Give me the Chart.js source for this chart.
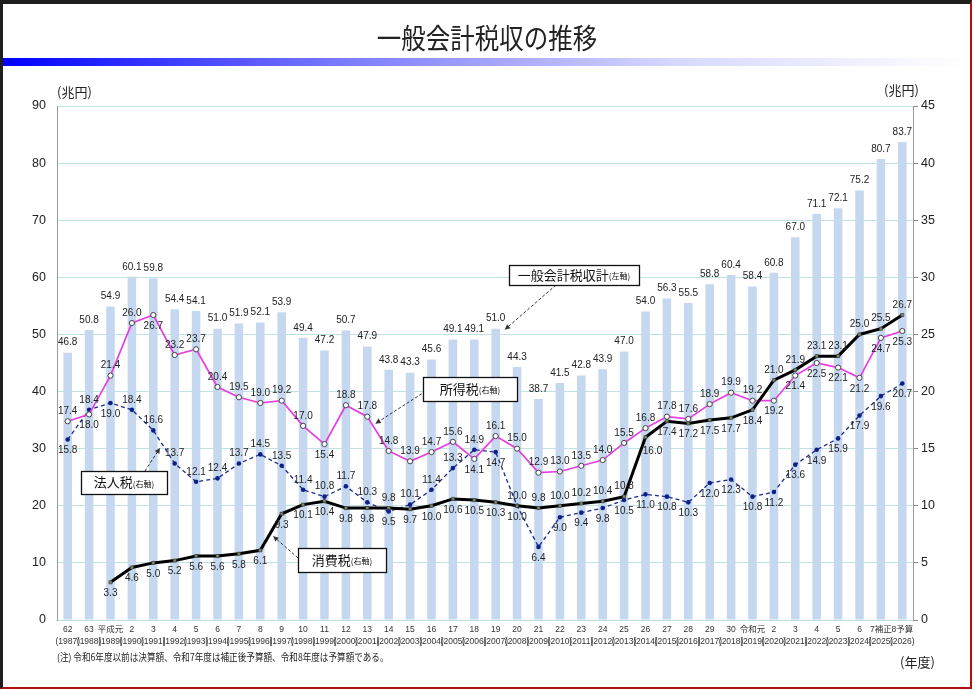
<!DOCTYPE html>
<html><head><meta charset="utf-8">
<script src="https://cdn.jsdelivr.net/npm/chart.js@4.4.1/dist/chart.umd.min.js"></script>
<style>
html,body{margin:0;padding:0;background:#fff;}
body{width:975px;height:690px;position:relative;overflow:hidden;font-family:"Noto Sans CJK JP","Liberation Sans",sans-serif;color:#222;}
#frame{position:absolute;left:0;top:0;width:972px;height:689px;box-sizing:border-box;border-top:4px solid #1e1e1e;border-left:3px solid #1e1e1e;border-right:2px solid #b01010;border-bottom:2px solid #b01010;z-index:3;pointer-events:none;}
#title{position:absolute;left:0;top:21px;width:975px;text-align:center;font-size:28px;line-height:32px;z-index:2;}
#title span{display:inline-block;transform:scaleX(0.875);}
#band{position:absolute;left:3px;top:58px;width:965px;height:8px;background:linear-gradient(to right,#0000ff 0%,#7a7aff 35%,#d8d8ff 70%,#ffffff 100%);z-index:2;}
canvas{position:absolute;left:0;top:0;z-index:1;}
.t{position:absolute;z-index:2;white-space:nowrap;}
#unitL{left:57px;top:84px;font-size:13px;line-height:16px;}
#unitR{left:884px;top:82px;font-size:13px;line-height:16px;}
#note{left:57px;top:650px;font-size:10px;line-height:14px;transform:scaleX(0.86);transform-origin:left center;}
#nendo{left:900px;top:654px;font-size:13px;line-height:16px;}
</style></head>
<body>
<div id="frame"></div>
<div id="title"><span>一般会計税収の推移</span></div>
<div id="band"></div>
<canvas id="c" width="975" height="690"></canvas>
<div class="t" id="unitL">(兆円)</div>
<div class="t" id="unitR">(兆円)</div>
<div class="t" id="note">(注) 令和6年度以前は決算額、令和7年度は補正後予算額、令和8年度は予算額である。</div>
<div class="t" id="nendo">(年度)</div>
<script>
// ---- data ----
const eraLabels = ['62','63','平成元','2','3','4','5','6','7','8','9','10','11','12','13','14','15','16','17','18','19','20','21','22','23','24','25','26','27','28','29','30','令和元','2','3','4','5','6','7補正','8予算'];
const yearLabels = ['1987','1988','1989','1990','1991','1992','1993','1994','1995','1996','1997','1998','1999','2000','2001','2002','2003','2004','2005','2006','2007','2008','2009','2010','2011','2012','2013','2014','2015','2016','2017','2018','2019','2020','2021','2022','2023','2024','2025','2026'];
const totalTax = [46.8,50.8,54.9,60.1,59.8,54.4,54.1,51.0,51.9,52.1,53.9,49.4,47.2,50.7,47.9,43.8,43.3,45.6,49.1,49.1,51.0,44.3,38.7,41.5,42.8,43.9,47.0,54.0,56.3,55.5,58.8,60.4,58.4,60.8,67.0,71.1,72.1,75.2,80.7,83.7];
const incomeTax = [17.4,18.0,21.4,26.0,26.7,23.2,23.7,20.4,19.5,19.0,19.2,17.0,15.4,18.8,17.8,14.8,13.9,14.7,15.6,14.1,16.1,15.0,12.9,13.0,13.5,14.0,15.5,16.8,17.8,17.6,18.9,19.9,19.2,19.2,21.4,22.5,22.1,21.2,24.7,25.3];
const corpTax = [15.8,18.4,19.0,18.4,16.6,13.7,12.1,12.4,13.7,14.5,13.5,11.4,10.8,11.7,10.3,9.5,10.1,11.4,13.3,14.9,14.7,10.0,6.4,9.0,9.4,9.8,10.5,11.0,10.8,10.3,12.0,12.3,10.8,11.2,13.6,14.9,15.9,17.9,19.6,20.7];
const consTax = [null,null,3.3,4.6,5.0,5.2,5.6,5.6,5.8,6.1,9.3,10.1,10.4,9.8,9.8,9.8,9.7,10.0,10.6,10.5,10.3,10.0,9.8,10.0,10.2,10.4,10.8,16.0,17.4,17.2,17.5,17.7,18.4,21.0,21.9,23.1,23.1,25.0,25.5,26.7];
const leftTicks = [0,10,20,30,40,50,60,70,80,90];
const rightTicks = [0,5,10,15,20,25,30,35,40,45];

// ---- label placement (a = above, b = below, r = below-right) ----
const placeIncome = ('abaabaaaaa'+'aabaaaaaab'+'aaaaaaaaaa'+'aaabbbbbbb').split('');
const placeCorp   = ('babaaaaaaa'+'aaaaabaaaa'+'babbbbbbbb'+'bbbbbbbbbb').split('');
const placeCons   = ('bbbbbbbbbb'+'bbbbbabbbb'+'bbaaaaarbb'+'bbbaaaaaaa').split('');

const labels = eraLabels.map((e,i)=>[e,'('+yearLabels[i]+')']);
const LATIN = '"Liberation Sans", Arial, "Noto Sans CJK JP", sans-serif';
const CJK = '"Noto Sans CJK JP", "Liberation Sans", sans-serif';

const valueLabels = {
  id:'valueLabels',
  afterDatasetsDraw(chart){
    const ctx = chart.ctx;
    ctx.save();
    ctx.font = '10px ' + LATIN;
    ctx.fillStyle = '#222';
    ctx.textAlign = 'center';
    chart.data.datasets.forEach((ds,i)=>{
      const meta = chart.getDatasetMeta(i);
      meta.data.forEach((el,j)=>{
        const v = ds.data[j];
        if (v == null) return;
        const pos = ds.place ? ds.place[j] : 'a';
        let x = el.x, y;
        if (ds.type === 'bar') { ctx.textBaseline = 'bottom'; y = el.y - 5; }
        else if (pos === 'a') { ctx.textBaseline = 'bottom'; y = el.y - 5; }
        else if (pos === 'r') { ctx.textBaseline = 'top'; y = el.y + 9; x = el.x + 7; }
        else { ctx.textBaseline = 'top'; y = el.y + 6; }
        ctx.fillText(v.toFixed(1), x, y);
      });
    });
    ctx.restore();
  }
};

function dashedArrow(ctx, x1, y1, x2, y2){
  ctx.save();
  ctx.strokeStyle = '#333';
  ctx.fillStyle = '#333';
  ctx.lineWidth = 1;
  ctx.setLineDash([3,2]);
  const ang = Math.atan2(y2-y1, x2-x1);
  const hl = 6;
  ctx.beginPath();
  ctx.moveTo(x1,y1);
  ctx.lineTo(x2 - Math.cos(ang)*hl*0.8, y2 - Math.sin(ang)*hl*0.8);
  ctx.stroke();
  ctx.setLineDash([]);
  ctx.beginPath();
  ctx.moveTo(x2,y2);
  ctx.lineTo(x2 - hl*Math.cos(ang-0.45), y2 - hl*Math.sin(ang-0.45));
  ctx.lineTo(x2 - hl*Math.cos(ang+0.45), y2 - hl*Math.sin(ang+0.45));
  ctx.closePath();
  ctx.fill();
  ctx.restore();
}

function drawBox(ctx, x, y, w, h, main, small){
  ctx.save();
  ctx.fillStyle = '#fff';
  ctx.fillRect(x, y, w, h);
  ctx.strokeStyle = '#111';
  ctx.lineWidth = 1.3;
  ctx.strokeRect(x+0.5, y+0.5, w, h);
  ctx.font = '13px ' + CJK;
  const mw = ctx.measureText(main).width;
  ctx.font = '8px ' + CJK;
  const sw = ctx.measureText(small).width;
  const sx = x + (w - mw - sw)/2;
  ctx.fillStyle = '#111';
  ctx.textBaseline = 'middle';
  ctx.textAlign = 'left';
  ctx.font = '13px ' + CJK;
  ctx.fillText(main, sx, y + h/2);
  ctx.font = '8px ' + CJK;
  ctx.fillText(small, sx + mw, y + h/2 + 1);
  ctx.restore();
}

const callouts = {
  id:'callouts',
  afterDraw(chart){
    const ctx = chart.ctx;
    const xs = chart.scales.x, yl = chart.scales.y, yr = chart.scales.y1;
    const px = i => xs.getPixelForValue(i);
    // 一般会計税収計 -> 2007 bar
    dashedArrow(ctx, 556, 285, px(20)+9, yl.getPixelForValue(totalTax[20])+1);
    drawBox(ctx, 509, 265, 130, 20, '一般会計税収計', '(左軸)');
    // 所得税 -> 2001
    dashedArrow(ctx, 426, 391, px(14)+8, yr.getPixelForValue(incomeTax[14])+7);
    drawBox(ctx, 423, 377, 94, 24, '所得税', '(右軸)');
    // 法人税 -> 1991-92 segment
    const cx = (px(4)+px(5))/2, cy = (yr.getPixelForValue(corpTax[4])+yr.getPixelForValue(corpTax[5]))/2;
    dashedArrow(ctx, 145, 471, cx-4, cy+1);
    drawBox(ctx, 81, 471, 86, 23, '法人税', '(右軸)');
    // 消費税 -> 1996-97 segment
    const kx = (px(9)+px(10))/2, ky = (yr.getPixelForValue(consTax[9])+yr.getPixelForValue(consTax[10]))/2;
    dashedArrow(ctx, 298, 558, kx+2, ky+4);
    drawBox(ctx, 298, 548, 88, 24, '消費税', '(右軸)');
  }
};

new Chart(document.getElementById('c'), {
  data:{
    labels: labels,
    datasets:[
      {type:'line', label:'消費税', data:consTax, place:placeCons, yAxisID:'y1', borderColor:'#000', borderWidth:3,
       pointStyle:'rect', pointRadius:2.2, pointBackgroundColor:'#7d8c66', pointBorderColor:'#333', pointBorderWidth:0.6, tension:0, order:1, spanGaps:false},
      {type:'line', label:'所得税', data:incomeTax, place:placeIncome, yAxisID:'y1', borderColor:'#e63fe0', borderWidth:1.7,
       pointRadius:2.6, pointBackgroundColor:'#fff', pointBorderColor:'#444', pointBorderWidth:1, tension:0, order:2},
      {type:'line', label:'法人税', data:corpTax, place:placeCorp, yAxisID:'y1', borderColor:'#1b2a8c', borderWidth:1.3, borderDash:[4,3],
       pointRadius:2.3, pointBackgroundColor:'#0f1f82', pointBorderColor:'#0f1f82', pointBorderWidth:0, tension:0, order:3},
      {type:'bar', label:'一般会計税収計', data:totalTax, yAxisID:'y', backgroundColor:'#c5d8ef', borderColor:'#b3cbe8', borderWidth:0,
       barPercentage:0.4, categoryPercentage:1.0, order:10}
    ]
  },
  options:{
    responsive:false,
    animation:false,
    devicePixelRatio:1,
    layout:{padding:{top:106,left:0,right:0,bottom:0}},
    plugins:{legend:{display:false}, tooltip:{enabled:false}},
    scales:{
      x:{
        grid:{display:false, drawTicks:false},
        border:{display:true, color:'#b9dede'},
        ticks:{autoSkip:false, maxRotation:0, minRotation:0, padding:4, color:'#333',
               font:{size:8.5, family:LATIN, lineHeight:1.35}},
        afterFit(s){ s.height = 70; }
      },
      y:{
        position:'left', min:0, max:90,
        afterBuildTicks(s){ s.ticks = leftTicks.map(v=>({value:v})); },
        ticks:{padding:11, color:'#222', font:{size:12.5, family:LATIN}},
        grid:{color:'#bfe2e2', lineWidth:1, drawTicks:false},
        border:{display:true, color:'#9a9a9a'},
        afterFit(s){ s.width = 57; }
      },
      y1:{
        position:'right', min:0, max:45,
        afterBuildTicks(s){ s.ticks = rightTicks.map(v=>({value:v})); },
        ticks:{padding:3, color:'#222', font:{size:12.5, family:LATIN}},
        grid:{drawOnChartArea:false, drawTicks:true, tickLength:5, tickColor:'#888'},
        border:{display:true, color:'#9a9a9a'},
        afterFit(s){ s.width = 62; }
      }
    }
  },
  plugins:[valueLabels, callouts]
});
</script>
</body></html>
